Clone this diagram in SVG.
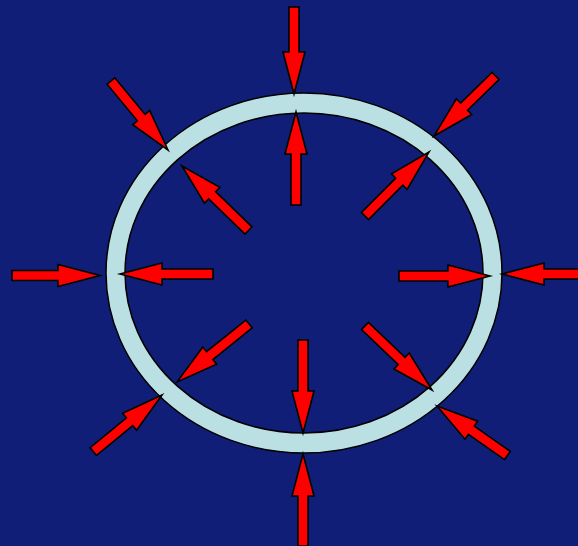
<svg xmlns="http://www.w3.org/2000/svg" width="578" height="546" viewBox="0 0 578 546">
<style>
.bg{fill:#101E78}
.ring{fill:#BBE0E3;stroke:#000;stroke-width:1.5;fill-rule:evenodd}
.arr{fill:#FF0000;stroke:#000;stroke-width:1.6;stroke-linejoin:miter}
</style>
<rect class="bg" x="0" y="0" width="578" height="546"/>
<g id="ring">
<path class="ring" d="M106,273a198,180 0 1,0 396,0a198,180 0 1,0 -396,0Z M125,273a179,160 0 1,0 358,0a179,160 0 1,0 -358,0Z"/>
</g>
<g id="arrows">
<!-- outer, pointing inward -->
<path id="a-top-out" class="arr" transform="translate(294,94) rotate(90)" d="M0,0L-42,-11L-42,-5L-87,-5L-87,5L-42,5L-42,11Z"/>
<path id="a-bottom-out" class="arr" transform="translate(303,454) rotate(-90)" d="M0,0L-42,-11L-42,-5L-92,-5L-92,5L-42,5L-42,11Z"/>
<path id="a-left-out" class="arr" transform="translate(100,275.5) rotate(0)" d="M0,0L-42,-11L-42,-5L-88,-5L-88,5L-42,5L-42,11Z"/>
<path id="a-right-out" class="arr" transform="translate(502,274) rotate(180)" d="M0,0L-42,-11L-42,-5L-90,-5L-90,5L-42,5L-42,11Z"/>
<path id="a-ul-out" class="arr" transform="translate(168,150) rotate(50.4)" d="M0,0L-42,-11L-42,-5L-89.5,-5L-89.5,5L-42,5L-42,11Z"/>
<path id="a-ur-out" class="arr" transform="translate(434,136) rotate(135.7)" d="M0,0L-42,-11L-42,-5L-86,-5L-86,5L-42,5L-42,11Z"/>
<path id="a-ll-out" class="arr" transform="translate(162,395) rotate(-39.5)" d="M0,0L-42,-11L-42,-5L-89,-5L-89,5L-42,5L-42,11Z"/>
<path id="a-lr-out" class="arr" transform="translate(437,406) rotate(-144.9)" d="M0,0L-42,-11L-42,-5L-86,-5L-86,5L-42,5L-42,11Z"/>
<!-- inner, pointing outward -->
<path id="a-top-in" class="arr" transform="translate(296,112) rotate(-90)" d="M0,0L-42,-11L-42,-5L-93,-5L-93,5L-42,5L-42,11Z"/>
<path id="a-bottom-in" class="arr" transform="translate(303,433) rotate(90)" d="M0,0L-42,-11L-42,-5L-93,-5L-93,5L-42,5L-42,11Z"/>
<path id="a-left-in" class="arr" transform="translate(120,274) rotate(180)" d="M0,0L-42,-11L-42,-5L-93,-5L-93,5L-42,5L-42,11Z"/>
<path id="a-right-in" class="arr" transform="translate(490,276) rotate(0)" d="M0,0L-42,-11L-42,-5L-91,-5L-91,5L-42,5L-42,11Z"/>
<path id="a-ul-in" class="arr" transform="translate(182,166) rotate(-135.9)" d="M0,0L-42,-11L-42,-5L-92.6,-5L-92.6,5L-42,5L-42,11Z"/>
<path id="a-ur-in" class="arr" transform="translate(429,152) rotate(-45)" d="M0,0L-42,-11L-42,-5L-90.5,-5L-90.5,5L-42,5L-42,11Z"/>
<path id="a-ll-in" class="arr" transform="translate(177,382) rotate(141.1)" d="M0,0L-42,-11L-42,-5L-92.5,-5L-92.5,5L-42,5L-42,11Z"/>
<path id="a-lr-in" class="arr" transform="translate(432,390) rotate(43.7)" d="M0,0L-42,-11L-42,-5L-92.7,-5L-92.7,5L-42,5L-42,11Z"/>
</g>
</svg>
